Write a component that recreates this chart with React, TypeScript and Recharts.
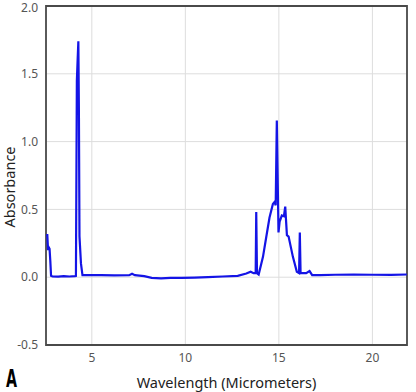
// App.tsx
import { LineChart, Line, XAxis, YAxis, CartesianGrid, ReferenceArea } from 'recharts';

const wavelength = [
  2.56, 2.62, 2.66, 2.7, 2.74, 2.78, 2.82, 2.9, 3.2, 3.5, 3.8, 4.1, 4.15, 4.2, 4.24, 4.28, 4.31, 4.34,
  4.38, 4.42, 4.5, 4.8, 5.5, 6.2, 7.0, 7.15, 7.3, 7.8, 8.2, 8.7, 9.2, 9.8, 10.5, 11.2, 12.0, 12.8,
  13.26, 13.49, 13.65, 13.76, 13.79, 13.83, 13.92, 14.15, 14.33, 14.5, 14.68, 14.77, 14.83, 14.89,
  14.98, 15.04, 15.16, 15.27, 15.34, 15.43, 15.52, 15.75, 15.96, 16.08, 16.12, 16.16, 16.46, 16.64,
  16.78, 17.2, 18, 19, 20, 21, 21.84
];

const absorbance = [
  0.31, 0.31, 0.2, 0.22, 0.21, 0.12, 0.01, 0.005, 0.004, 0.008, 0.005, 0.008, 0.01, 1.45, 1.6, 1.74, 1.2, 0.3,
  0.2, 0.1, 0.015, 0.015, 0.015, 0.014, 0.015, 0.025, 0.015, 0.008, -0.005, -0.008, -0.005, -0.005, -0.003, 0.0, 0.005, 0.01,
  0.027, 0.04, 0.03, 0.03, 0.48, 0.03, 0.02, 0.15, 0.3, 0.44, 0.54, 0.555, 0.53, 1.155,
  0.33, 0.41, 0.455, 0.45, 0.52, 0.31, 0.3, 0.15, 0.04, 0.03, 0.33, 0.03, 0.03, 0.045,
  0.015, 0.015, 0.018, 0.02, 0.018, 0.017, 0.02
];

const xTicks = [5, 10, 15, 20];
const yTicks = [-0.5, 0, 0.5, 1, 1.5, 2];

const data = wavelength.map((w, i) => ({ w, a: absorbance[i] }));

const tickStyle = { fontSize: 12, fill: '#555', fontFamily: 'Noto Sans' };

export default function App() {
  return (
    <div style={{ position: 'absolute', left: 0, top: 0, width: 416, height: 392, background: '#fff' }}>
      <LineChart width={416} height={392} data={data} margin={{ top: 6, right: 9, bottom: 0, left: 0 }}>
        <CartesianGrid stroke="#ddd" strokeWidth={1} />
        <XAxis
          type="number"
          dataKey="w"
          domain={[2.55, 21.85]}
          ticks={xTicks}
          allowDataOverflow
          height={47}
          axisLine={false}
          tickLine={false}
          tick={tickStyle}
        />
        <YAxis
          type="number"
          domain={[-0.5, 2]}
          ticks={yTicks}
          tickFormatter={v => v.toFixed(1)}
          width={46}
          axisLine={false}
          tickLine={false}
          tick={tickStyle}
        />
        <ReferenceArea x1={2.55} x2={21.85} y1={-0.5} y2={2} fill="none" stroke="#4a4a4a" strokeWidth={1.8} />
        <Line
          type="linear"
          dataKey="a"
          stroke="#1414e6"
          strokeWidth={2.2}
          dot={false}
          isAnimationActive={false}
        />
      </LineChart>
      <svg width={416} height={392} style={{ position: 'absolute', left: 0, top: 0, pointerEvents: 'none' }}>
        <text x={226.5} y={388} textAnchor="middle" fontSize={14.5} fill="#222" fontFamily="Noto Sans">
          Wavelength (Micrometers)
        </text>
        <text
          x={15}
          y={187}
          textAnchor="middle"
          fontSize={14.5}
          fill="#222"
          fontFamily="Noto Sans"
          transform="rotate(-90 15 187)"
        >
          Absorbance
        </text>
        <text
          x={6}
          y={387}
          fontSize={24}
          fontWeight="bold"
          fill="#000"
          fontFamily="DejaVu Sans Condensed"
          textLength={11}
          lengthAdjust="spacingAndGlyphs"
        >
          A
        </text>
      </svg>
    </div>
  );
}
